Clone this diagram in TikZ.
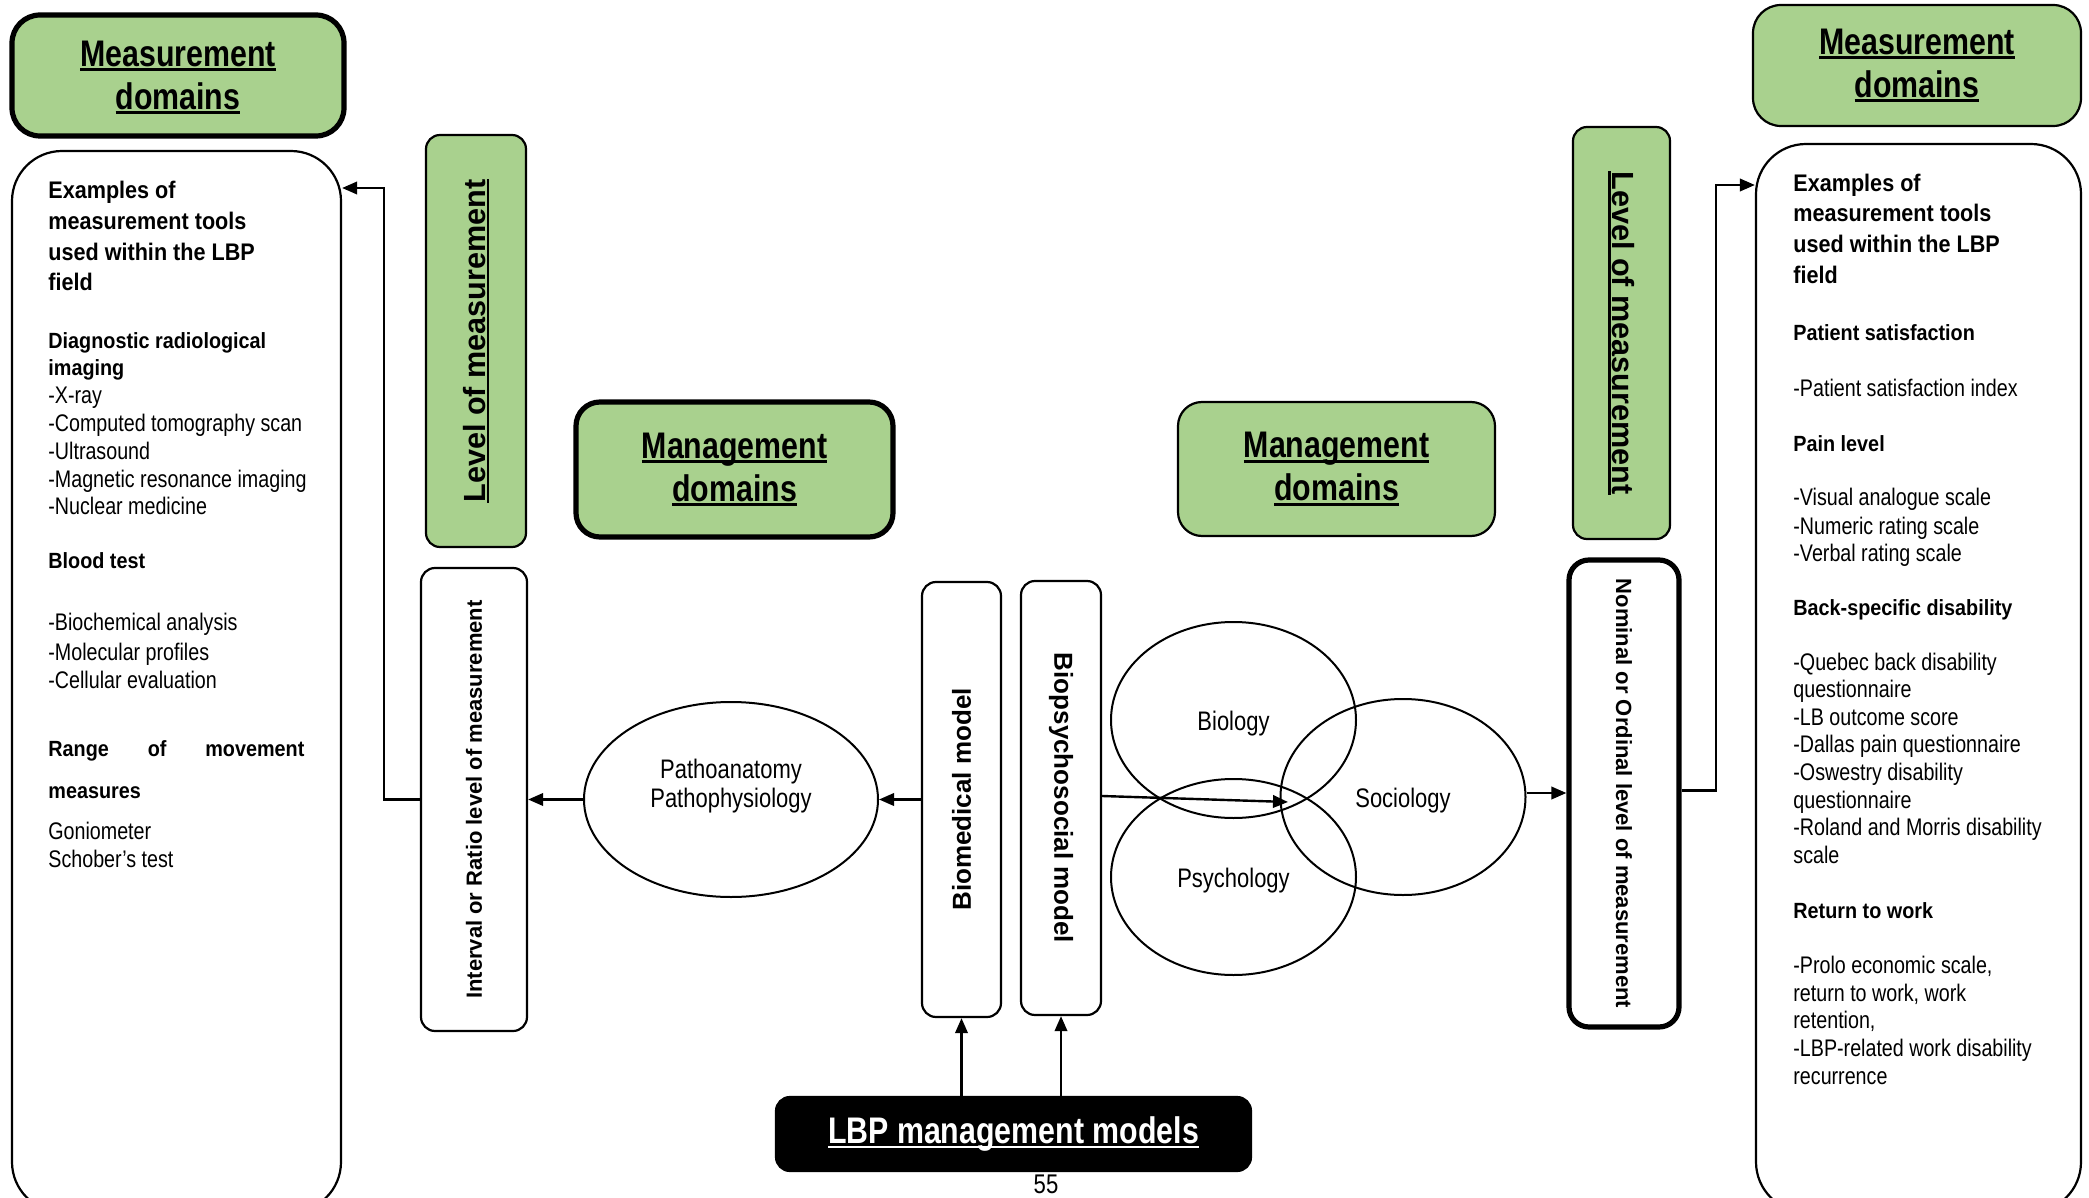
\documentclass[tikz,border=0pt]{standalone}
\usepackage{fontspec}
\setmainfont{Liberation Sans}
\newfontfamily\nar[FakeStretch=0.82]{Liberation Sans}
\newfontfamily\bod[FakeStretch=0.9]{Liberation Sans}
\usetikzlibrary{shapes.geometric,arrows.meta,fit}
\definecolor{lgreen}{RGB}{169,209,142}
\newsavebox\ulbox
\newcommand{\ulin}[1]{\leavevmode\sbox\ulbox{#1}\mbox{\rlap{\rule[-0.13em]{\wd\ulbox}{0.075em}}\usebox\ulbox}}
\begin{document}
\begin{tikzpicture}[x=0.5pt,y=-0.5pt,
  box/.style={draw, line width=1.1pt, inner sep=0pt, rounded corners=7pt},
  heavy/.style={line width=2.6pt},
  arr/.style={line width=1.2pt, -{Triangle[length=7.5pt,width=6.2pt]}},
  circ/.style={draw, ellipse, line width=1pt, inner sep=0pt, minimum width=122.5pt, minimum height=98pt},
  ctext/.style={font=\nar\fontsize{13.4}{14.5}\selectfont, inner sep=0pt, align=center},
  mdfont/.style={font=\nar\bfseries\fontsize{18.5}{21.5}\selectfont, align=center, inner sep=0pt},
  lvlfont/.style={font=\bfseries\fontsize{15.3}{18}\selectfont, inner sep=0pt},
  vfont/.style={font=\bfseries\fontsize{11}{13}\selectfont, inner sep=0pt},
  mfont/.style={font=\bfseries\fontsize{13}{15}\selectfont, inner sep=0pt},
  lt/.style={anchor=west, inner sep=0pt, text height=0.75em, text depth=0.2em},
  hd/.style={lt, font=\bod\bfseries\fontsize{12}{14}\selectfont},
  sh/.style={lt, font=\bod\bfseries\fontsize{11}{13}\selectfont},
  tx/.style={lt, font=\nar\fontsize{12}{14}\selectfont},
]
\fill[white] (0,0) rectangle (2089,1198);
\useasboundingbox (0,0) rectangle (2089,1198);

% ---------- left side ----------
\node[box, heavy, fill=lgreen, rounded corners=14pt, fit={(12,15)(344,136)}] (mdL) {};
\node[mdfont] (mdLt) at ([yshift=-1pt]mdL.center) {\ulin{Measurement}\\\ulin{domains}};
\node[box, rounded corners=25pt, fit={(12,151)(341,1212)}] (exL) {};
\node[box, fill=lgreen, fit={(426,135)(526,547)}] (lvlL) {};
\node[lvlfont, rotate=90] (lvlLt) at (lvlL.center) {\ulin{Level of measurement}};
\node[box, fit={(421,568)(527,1031)}] (intL) {};
\node[vfont, rotate=90] (intLt) at (intL.center) {Interval or Ratio level of measurement};
\node[box, heavy, fill=lgreen, rounded corners=12pt, fit={(576,402)(893,537)}] (mgL) {};
\node[mdfont] (mgLt) at (mgL.center) {\ulin{Management}\\\ulin{domains}};
\node[circ, minimum width=147pt, minimum height=97.5pt] (patho) at (731,799.5) {};
\node[ctext] (pathot) at (731,786) {Pathoanatomy\\Pathophysiology};

% ---------- centre ----------
\node[box, fit={(922,582)(1001,1017)}] (biomed) {};
\node[mfont, rotate=90] (biomedt) at (biomed.center) {Biomedical model};
\node[box, fit={(1021,581)(1101,1015)}] (biopsy) {};
\node[mfont, rotate=-90] (biopsyt) at (biopsy.center) {Biopsychosocial model};
\node[circ] (bio) at (1233.5,720) {};
\node[circ] (psy) at (1233.5,877) {};
\node[circ] (soc) at (1403,797) {};
\node[ctext] (biot) at (1233.5,724) {Biology};
\node[ctext] (psyt) at (1233.5,881) {Psychology};
\node[ctext] (soct) at (1403,801) {Sociology};
\node[box, fill=black, fit={(776,1097)(1251,1171)}] (lbp) {};
\node[text=white, font=\nar\bfseries\fontsize{18.5}{21.5}\selectfont, inner sep=0pt] (lbpt) at (lbp.center) {\ulin{LBP management models}};
\node[font=\nar\fontsize{13.5}{16}\selectfont, inner sep=0pt] (pg) at (1046,1184) {55};

% ---------- right side ----------
\node[box, fill=lgreen, rounded corners=12pt, fit={(1178,402)(1495,536)}] (mgR) {};
\node[mdfont] (mgRt) at (mgR.center) {\ulin{Management}\\\ulin{domains}};
\node[box, fill=lgreen, fit={(1573,127)(1670,539)}] (lvlR) {};
\node[lvlfont, rotate=-90] (lvlRt) at (lvlR.center) {\ulin{Level of measurement}};
\node[box, heavy, rounded corners=10pt, fit={(1569,560)(1679,1027)}] (nom) {};
\node[vfont, rotate=-90] (nomt) at (nom.center) {Nominal or Ordinal level of measurement};
\node[box, fill=lgreen, rounded corners=14pt, fit={(1753,5)(2081,126)}] (mdR) {};
\node[mdfont] (mdRt) at (mdR.center) {\ulin{Measurement}\\\ulin{domains}};
\node[box, rounded corners=25pt, fit={(1756,144)(2081,1212)}] (exR) {};

% ---------- connectors ----------
\coordinate (kL) at (384,188);
\draw[arr] (intL.west) -| (kL) -- (exL.east |- kL);
\draw[arr] (patho.west) -- (patho.west -| intL.east);
\draw[arr] (biomed.west) -- (patho.east);
\draw[arr] (lbp.north -| biomed.south) -- (biomed.south);
\draw[arr] (lbp.north -| biopsy.south) -- (biopsy.south);
\coordinate (socin) at (1288,802);
\draw[arr] ([yshift=1pt]biopsy.east) -- (socin);
\draw[arr] ([yshift=2pt]soc.east) -- ([yshift=2pt]soc.east -| nom.west);
\coordinate (kR) at (1716,185);
\draw[arr] ([yshift=1.5pt]nom.east) -| (kR) -- (exR.west |- kR);

% ---------- left text ----------
\foreach \yv/\tv [count=\i] in {193/{Examples of},224/{measurement tools},255/{used within the LBP},285/{field}}
  \node[hd] (lh\i) at (48,\yv) {\tv};
\foreach \yv/\tv [count=\i] in {343/{Diagnostic radiological},370/{imaging},563/{Blood test},793/{measures}}
  \node[sh] (ls\i) at (48,\yv) {\tv};
\node[sh] (lrange) at (48,751) {\makebox[128pt][s]{Range of movement}};
\foreach \yv/\tv [count=\i] in {398/{-X-ray},426/{-Computed tomography scan},454/{-Ultrasound},482/{-Magnetic resonance imaging},509/{-Nuclear medicine},625/{-Biochemical analysis},655/{-Molecular profiles},683/{-Cellular evaluation},834/{Goniometer},862/{Schober’s test}}
  \node[tx] (lt\i) at (48,\yv) {\tv};

% ---------- right text ----------
\foreach \yv/\tv [count=\i] in {186/{Examples of},216/{measurement tools},247/{used within the LBP},278/{field}}
  \node[hd] (rh\i) at (1793,\yv) {\tv};
\foreach \yv/\tv [count=\i] in {335/{Patient satisfaction},446/{Pain level},610/{Back-specific disability},913/{Return to work}}
  \node[sh] (rs\i) at (1793,\yv) {\tv};
\foreach \yv/\tv [count=\i] in {391/{-Patient satisfaction index},500/{-Visual analogue scale},529/{-Numeric rating scale},556/{-Verbal rating scale},665/{-Quebec back disability},692/{questionnaire},720/{-LB outcome score},747/{-Dallas pain questionnaire},775/{-Oswestry disability},803/{questionnaire},830/{-Roland and Morris disability},858/{scale},968/{-Prolo economic scale,},996/{return to work, work},1023/{retention,},1051/{-LBP-related work disability},1079/{recurrence}}
  \node[tx] (rt\i) at (1793,\yv) {\tv};
\end{tikzpicture}
\end{document}
